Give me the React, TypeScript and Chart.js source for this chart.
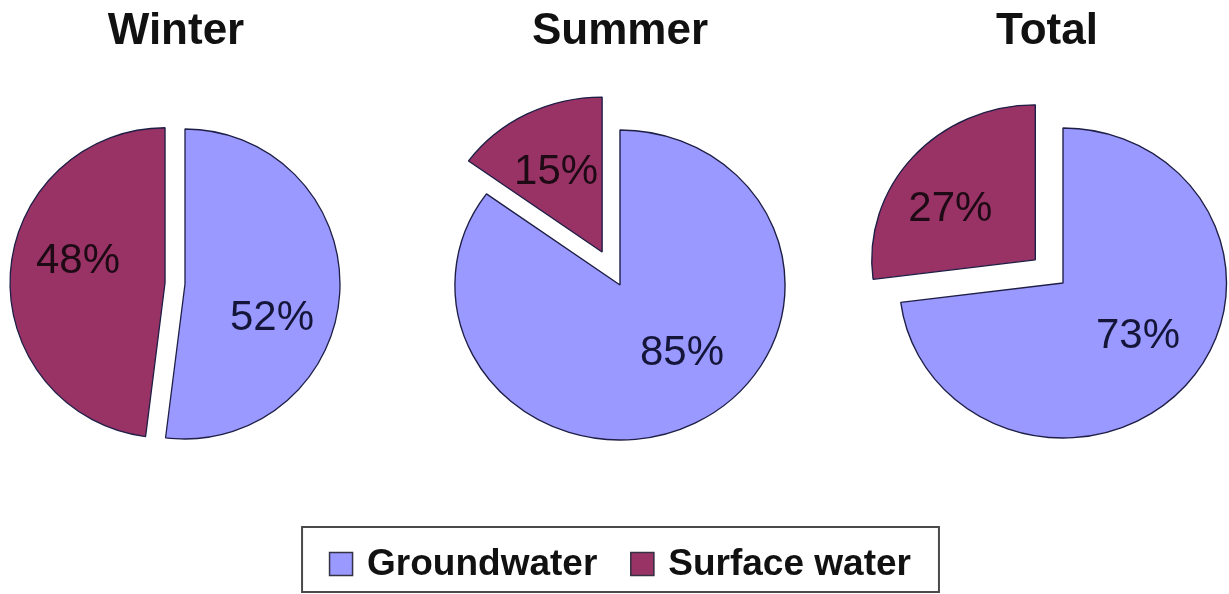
import React, { useEffect, useRef } from 'react';
import { Chart, registerables } from 'chart.js';

Chart.register(...registerables);

// ---- data ----
const categories = ['Groundwater', 'Surface water'];
const panelTitles = ['Winter', 'Summer', 'Total'];
const groundwater = [52, 85, 73];
const surfaceWater = [48, 15, 27];
const seriesColors = ['#9999FF', '#993366'];

// ---- layout / style ----
const PAGE_W = 1229;
const PAGE_H = 594;
const FONT = '"Liberation Sans", Arial, Helvetica, sans-serif';

const panelLayout = [
  { cx: 185, cy: 284, r: 155, sx: 1.0, explode: [0, 20], titleX: 176, labelShift: [[87, 34], [-87, -21]], legend: false },
  { cx: 620, cy: 285, r: 155, sx: 1.065, explode: [0, 37], titleX: 620, labelShift: [[62, 68], [-46, -80]], legend: true },
  { cx: 1063, cy: 283, r: 155, sx: 1.055, explode: [0, 35], titleX: 1047, labelShift: [[75, 53], [-85, -50]], legend: false },
];

const piePanelPlugin = {
  id: 'piePanel',
  beforeDatasetsDraw(chart: any, _args: any, opts: any) {
    const meta = chart.getDatasetMeta(0);
    const ctx = chart.ctx;
    meta.data.forEach((arc: any, i: number) => {
      const { x, y, startAngle, endAngle } = arc.getProps(['x', 'y', 'startAngle', 'endAngle'], true);
      const mid = (startAngle + endAngle) / 2;
      const e = opts.explode[i] || 0;
      ctx.save();
      ctx.translate(x, y);
      ctx.scale(opts.sx, 1);
      ctx.translate(Math.cos(mid) * e, Math.sin(mid) * e);
      ctx.translate(-x, -y);
      arc.draw(ctx);
      ctx.restore();
    });
    return false;
  },
  afterDraw(chart: any, _args: any, opts: any) {
    const ctx = chart.ctx;
    const meta = chart.getDatasetMeta(0);
    const ds = chart.data.datasets[0];
    const total = ds.data.reduce((a: number, b: number) => a + b, 0);
    ctx.save();
    // title
    ctx.fillStyle = '#111111';
    ctx.font = `bold 44px ${FONT}`;
    ctx.textAlign = 'center';
    ctx.textBaseline = 'alphabetic';
    ctx.fillText(opts.title, opts.titleX, 44);
    // percentage labels
    ctx.font = `42px ${FONT}`;
    ctx.textBaseline = 'middle';
    meta.data.forEach((arc: any, i: number) => {
      const { x, y, startAngle, endAngle } = arc.getProps(['x', 'y', 'startAngle', 'endAngle'], true);
      const mid = (startAngle + endAngle) / 2;
      const e = opts.explode[i] || 0;
      const px = x + Math.cos(mid) * e * opts.sx + opts.labelShift[i][0];
      const py = y + Math.sin(mid) * e + opts.labelShift[i][1];
      ctx.fillStyle = i === 0 ? '#15153a' : '#1e0a14';
      ctx.fillText(`${Math.round((ds.data[i] / total) * 100)}%`, px, py);
    });
    // shared legend
    if (opts.legend) {
      const labels: string[] = chart.data.labels;
      const colors: string[] = ds.backgroundColor;
      ctx.font = `bold 37px ${FONT}`;
      const sq = 24, gapText = 14, gapItem = 33, padL = 27, padR = 28;
      const widths = labels.map((l) => ctx.measureText(l).width);
      const itemsW = widths.reduce((s, w) => s + sq + gapText + w, 0) + gapItem * (labels.length - 1);
      let x = opts.cx - itemsW / 2;
      ctx.strokeStyle = '#4a4a4a';
      ctx.lineWidth = 2;
      ctx.strokeRect(x - padL, 527, itemsW + padL + padR, 65);
      labels.forEach((l, i) => {
        ctx.fillStyle = colors[i];
        ctx.fillRect(x, 552, sq, sq);
        ctx.strokeStyle = '#333344';
        ctx.lineWidth = 1.5;
        ctx.strokeRect(x + 0.5, 552.5, sq - 1, sq - 1);
        ctx.fillStyle = '#111111';
        ctx.textAlign = 'left';
        ctx.textBaseline = 'alphabetic';
        ctx.fillText(l, x + sq + gapText, 575);
        x += sq + gapText + widths[i] + gapItem;
      });
    }
    ctx.restore();
  },
};

export default function App() {
  const refs = [useRef<HTMLCanvasElement>(null), useRef<HTMLCanvasElement>(null), useRef<HTMLCanvasElement>(null)];

  useEffect(() => {
    const charts: Chart[] = [];
    panelLayout.forEach((p, idx) => {
      const canvas = refs[idx].current;
      if (!canvas) return;
      const chart = new Chart(canvas, {
        type: 'pie',
        data: {
          labels: categories,
          datasets: [
            {
              data: [groundwater[idx], surfaceWater[idx]],
              backgroundColor: seriesColors,
              borderColor: '#1e1e46',
              borderWidth: 1.3,
            },
          ],
        },
        options: {
          responsive: false,
          animation: false,
          events: [],
          radius: p.r,
          layout: {
            padding: {
              left: p.cx - p.r,
              right: PAGE_W - p.cx - p.r,
              top: p.cy - p.r,
              bottom: PAGE_H - p.cy - p.r,
            },
          },
          plugins: {
            legend: { display: false },
            title: { display: false },
            tooltip: { enabled: false },
            piePanel: {
              title: panelTitles[idx],
              titleX: p.titleX,
              explode: p.explode,
              sx: p.sx,
              labelShift: p.labelShift,
              legend: p.legend,
              cx: p.cx,
            },
          } as any,
        },
        plugins: [piePanelPlugin],
      } as any);
      charts.push(chart);
    });
    return () => charts.forEach((c) => c.destroy());
  }, []);

  return (
    <div style={{ position: 'absolute', left: 0, top: 0, width: PAGE_W, height: PAGE_H, background: '#ffffff' }}>
      {refs.map((r, i) => (
        <canvas
          key={i}
          ref={r}
          width={PAGE_W}
          height={PAGE_H}
          style={{ position: 'absolute', left: 0, top: 0, width: PAGE_W, height: PAGE_H }}
        />
      ))}
    </div>
  );
}
